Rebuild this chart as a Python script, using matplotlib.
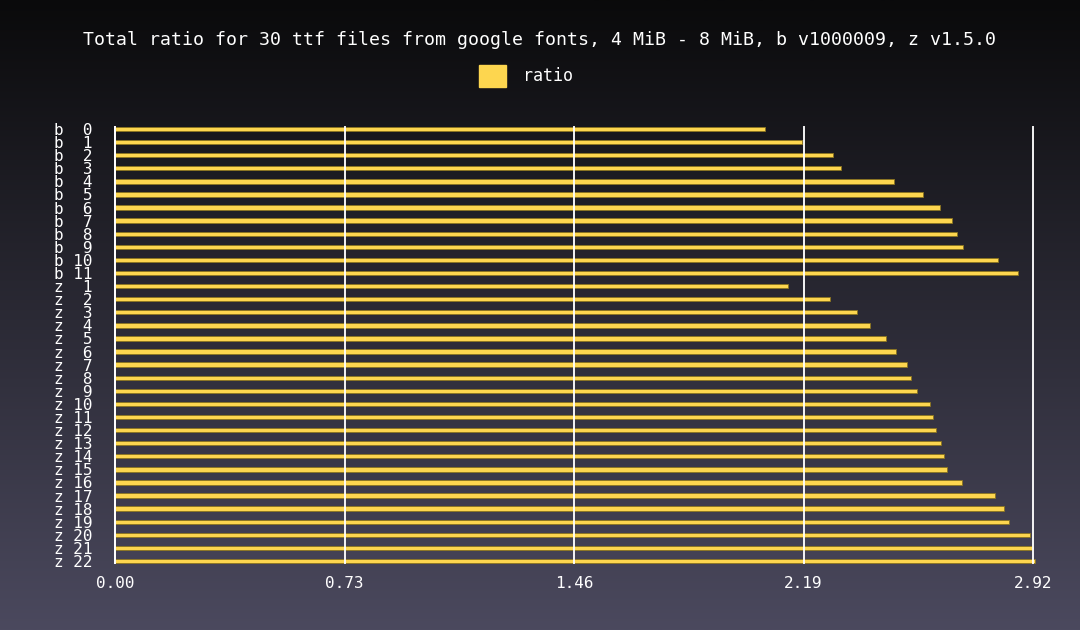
import numpy as np
import matplotlib
matplotlib.use("Agg")
import matplotlib.pyplot as plt
from matplotlib.patches import Patch

categories = [f"b {i:>2}" for i in range(12)] + [f"z {i:>2}" for i in range(1, 23)]
ratio = [2.067, 2.184, 2.283, 2.308, 2.477, 2.569, 2.624, 2.661, 2.679, 2.697, 2.810, 2.871,
         2.141, 2.273, 2.359, 2.400, 2.454, 2.483, 2.519, 2.532, 2.550, 2.592, 2.601, 2.613,
         2.626, 2.636, 2.645, 2.695, 2.799, 2.828, 2.843, 2.909, 2.918, 2.926]
xticks = [0.00, 0.73, 1.46, 2.19, 2.92]
title = "Total ratio for 30 ttf files from google fonts, 4 MiB - 8 MiB, b v1000009, z v1.5.0"

plt.rcParams['font.family'] = ['DejaVu Sans Mono', 'DejaVu Sans']
W, H = 1080, 630
fig = plt.figure(figsize=(W / 100, H / 100), dpi=100)

# gradient background
bg = fig.add_axes([0, 0, 1, 1], zorder=-10)
top = np.array([0x0a, 0x0a, 0x0b]) / 255
bot = np.array([0x4b, 0x49, 0x5e]) / 255
t = np.linspace(0, 1, 256)[:, None]
grad = (top[None, :] * (1 - t) + bot[None, :] * t)[:, None, :]
bg.imshow(grad, aspect='auto', extent=[0, 1, 0, 1], origin='upper')
bg.axis('off')

x0, x1 = 115, 1033
y_top, y_bot = 127, 563
ax = fig.add_axes([x0 / W, 1 - y_bot / H, (x1 - x0) / W, (y_bot - y_top) / H])
ax.set_facecolor('none')

n = len(categories)
y = np.arange(n)
ax.barh(y, ratio, height=0.33, color='#fdd64f', edgecolor='#8a7420', linewidth=0.6,
        clip_on=False, zorder=2)

sp = (y_bot - y_top - 4) / (n - 1)
ax.set_ylim(n - 1 + 2 / sp, -2 / sp)
ax.set_xlim(0, 2.92)
ax.set_xticks(xticks)
ax.set_xticklabels([f"{v:.2f}" for v in xticks])
ax.set_yticks(y)
ax.set_yticklabels(categories)
ax.tick_params(axis='both', length=0, colors='white', labelsize=11.5)
ax.tick_params(axis='y', pad=16)
ax.tick_params(axis='x', pad=9)
ax.set_axisbelow(False)
ax.xaxis.grid(True, color='white', linewidth=1.4, alpha=0.95)
for gl in ax.get_xgridlines():
    gl.set_zorder(3)
    gl.set_clip_on(False)
for s in ['top', 'right', 'bottom']:
    ax.spines[s].set_visible(False)
ax.spines['left'].set_color('white')
ax.spines['left'].set_linewidth(1.4)
ax.spines['left'].set_zorder(4)

fig.text(0.5 - 0.5 / W, 1 - 40 / H, title, ha='center', va='center', color='white', fontsize=13.15)

handle = Patch(facecolor='#fdd64f', edgecolor='#fdd64f')
fig.legend([handle], ['ratio'], loc='center', bbox_to_anchor=(526 / W, 1 - 76 / H),
           frameon=False, fontsize=12, labelcolor='white',
           handlelength=1.65, handleheight=1.65, handletextpad=1.0)

fig.savefig('out.png', dpi=100)
